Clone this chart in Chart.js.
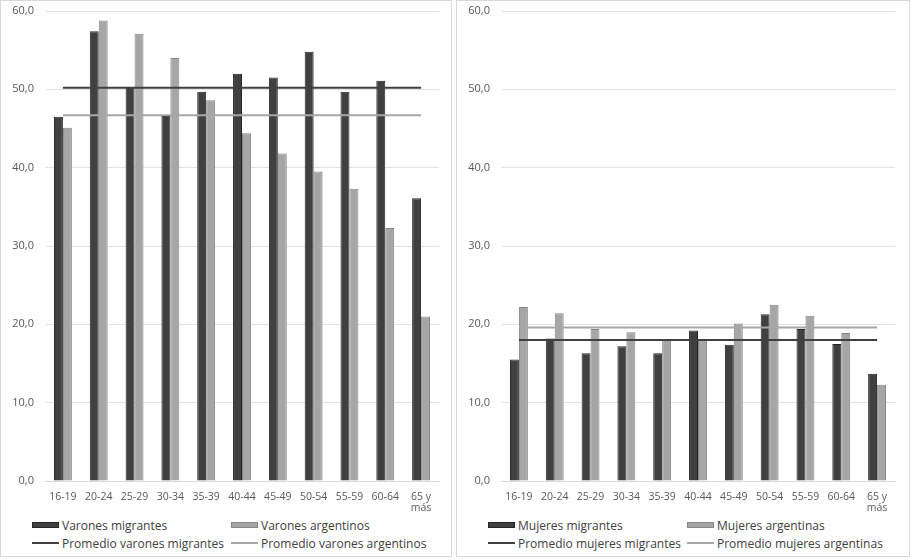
<!DOCTYPE html>
<html>
<head>
<meta charset="utf-8">
<script src="https://cdn.jsdelivr.net/npm/chart.js@4"></script>
<style>
  html, body { margin: 0; padding: 0; background: #fff; }
  body { width: 912px; height: 560px; position: relative; font-family: "Open Sans", sans-serif; }
  .panel { position: absolute; top: 0; width: 452px; height: 557px; box-sizing: border-box; border: 1px solid #d9d9d9; }
  #p1 { left: 0; }
  #p2 { left: 456px; width: 454px; }
  .plot { position: absolute; left: 0; top: 0; width: 450px; height: 514px; }
  .legend { position: absolute; left: 0; top: 515px; width: 450px; height: 40px; font-size: 12px; color: #404040; }
  .item { position: absolute; display: flex; align-items: center; height: 16px; white-space: nowrap; }
  .sym { width: 27px; margin-right: 3px; }
</style>
</head>
<body>
<div class="panel" id="p1"><div class="plot"><canvas id="c1"></canvas></div><div class="legend" id="l1"></div></div>
<div class="panel" id="p2"><div class="plot"><canvas id="c2"></canvas></div><div class="legend" id="l2"></div></div>
<script>
// age groups (x axis)
const ageGroups = ['16-19', '20-24', '25-29', '30-34', '35-39', '40-44', '45-49', '50-54', '55-59', '60-64', ['65 y', 'más']];

// left panel: varones
const varonesMigrantes  = [46.5, 57.4, 50.3, 46.6, 49.7, 52.0, 51.5, 54.8, 49.7, 51.1, 36.1];
const varonesArgentinos = [45.1, 58.8, 57.1, 54.0, 48.6, 44.4, 41.8, 39.5, 37.3, 32.3, 21.0];
const promVaronesMigrantes  = [50.2, 50.2, 50.2, 50.2, 50.2, 50.2, 50.2, 50.2, 50.2, 50.2, 50.2];
const promVaronesArgentinos = [46.7, 46.7, 46.7, 46.7, 46.7, 46.7, 46.7, 46.7, 46.7, 46.7, 46.7];

// right panel: mujeres
const mujeresMigrantes  = [15.5, 18.2, 16.3, 17.2, 16.3, 19.2, 17.4, 21.3, 19.4, 17.5, 13.7];
const mujeresArgentinas = [22.2, 21.4, 19.4, 19.0, 18.0, 18.0, 20.1, 22.5, 21.1, 18.9, 12.3];
const promMujeresMigrantes  = [18.0, 18.0, 18.0, 18.0, 18.0, 18.0, 18.0, 18.0, 18.0, 18.0, 18.0];
const promMujeresArgentinas = [19.6, 19.6, 19.6, 19.6, 19.6, 19.6, 19.6, 19.6, 19.6, 19.6, 19.6];

const DARK = '#404040', LIGHT = '#a6a6a6';
const TICK = '#595959', GRID = '#e3e3e3';

function makeDatasets(names, mig, arg, pMig, pArg) {
    return [
        { type: 'bar', label: names[0], data: mig, backgroundColor: DARK, borderColor: '#262626', borderWidth: 1, order: 2 },
        { type: 'bar', label: names[1], data: arg, backgroundColor: LIGHT, borderColor: '#858585', borderWidth: 1, order: 2 },
        { type: 'line', label: names[2], data: pMig, borderColor: DARK, borderWidth: 2, pointRadius: 0, order: 0 },
        { type: 'line', label: names[3], data: pArg, borderColor: LIGHT, borderWidth: 2, pointRadius: 0, order: 1 }
    ];
}

function buildChart(canvasId, datasets) {
    return new Chart(document.getElementById(canvasId), {
        type: 'bar',
        data: { labels: ageGroups, datasets: datasets },
        options: {
            responsive: true,
            maintainAspectRatio: false,
            animation: false,
            layout: { padding: { top: 10, right: 12, left: 0, bottom: 0 } },
            datasets: { bar: { categoryPercentage: 0.5, barPercentage: 1.0 } },
            scales: {
                x: {
                    grid: { display: false },
                    border: { color: '#d9d9d9' },
                    ticks: {
                        color: TICK, font: { family: 'Open Sans', size: 10.5, lineHeight: 1.1 },
                        autoSkip: false, maxRotation: 0, padding: 2
                    },
                    afterFit: s => { s.height = 34; }
                },
                y: {
                    min: 0, max: 60,
                    grid: { color: GRID, drawTicks: false },
                    border: { display: false },
                    ticks: {
                        stepSize: 10, color: TICK, padding: 11,
                        font: { family: 'Open Sans', size: 11 },
                        callback: v => v.toFixed(1).replace('.', ',')
                    },
                    // fixed axis width, no extra room above the top label
                    afterFit: s => { s.width = 44; s.paddingTop = 0; s.paddingBottom = 0; }
                }
            },
            plugins: { legend: { display: false }, tooltip: { enabled: false } }
        }
    });
}

// html legend in 2 columns, built from the chart's datasets
function buildLegend(chart, legendId) {
    const box = document.getElementById(legendId);
    const cols = [31, 230];
    chart.data.datasets.forEach((ds, i) => {
        const item = document.createElement('div');
        item.className = 'item';
        item.style.left = cols[i % 2] + 'px';
        item.style.top = (i < 2 ? 1 : 19) + 'px';
        const sym = document.createElement('span');
        sym.className = 'sym';
        if (ds.type === 'bar') {
            sym.style.height = '6px';
            sym.style.background = ds.backgroundColor;
            sym.style.border = '1px solid ' + ds.borderColor;
            sym.style.boxSizing = 'border-box';
        } else {
            sym.style.height = '2px';
            sym.style.background = ds.borderColor;
        }
        const txt = document.createElement('span');
        txt.textContent = ds.label;
        item.appendChild(sym);
        item.appendChild(txt);
        box.appendChild(item);
    });
}

const chartV = buildChart('c1', makeDatasets(
    ['Varones migrantes', 'Varones argentinos', 'Promedio varones migrantes', 'Promedio varones argentinos'],
    varonesMigrantes, varonesArgentinos, promVaronesMigrantes, promVaronesArgentinos));
const chartM = buildChart('c2', makeDatasets(
    ['Mujeres migrantes', 'Mujeres argentinas', 'Promedio mujeres migrantes', 'Promedio mujeres argentinas'],
    mujeresMigrantes, mujeresArgentinas, promMujeresMigrantes, promMujeresArgentinas));

buildLegend(chartV, 'l1');
buildLegend(chartM, 'l2');
</script>
</body>
</html>
